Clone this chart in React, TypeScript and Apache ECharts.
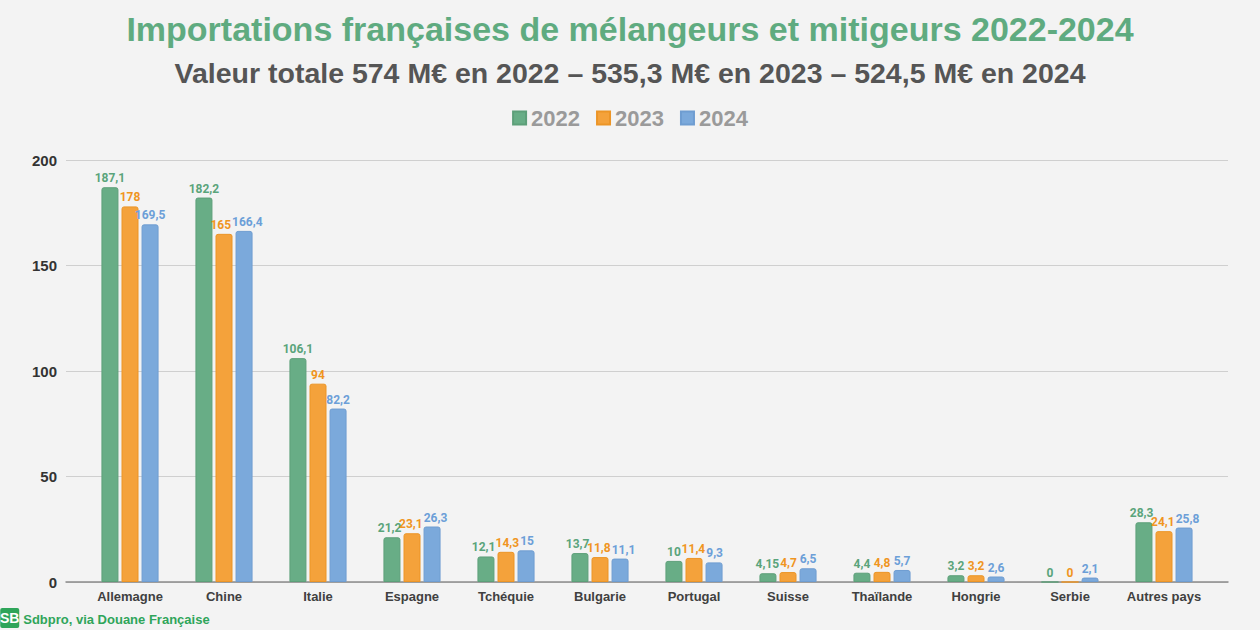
import React, { useEffect, useRef } from "react";
import * as echarts from "echarts";

const categories = ["Allemagne", "Chine", "Italie", "Espagne", "Tchéquie", "Bulgarie", "Portugal", "Suisse", "Thaïlande", "Hongrie", "Serbie", "Autres pays"];
const years = ["2022", "2023", "2024"];
const v2022 = [187.1, 182.2, 106.1, 21.2, 12.1, 13.7, 10, 4.15, 4.4, 3.2, 0, 28.3];
const v2023 = [178, 165, 94, 23.1, 14.3, 11.8, 11.4, 4.7, 4.8, 3.2, 0, 24.1];
const v2024 = [169.5, 166.4, 82.2, 26.3, 15, 11.1, 9.3, 6.5, 5.7, 2.6, 2.1, 25.8];
const yTicks = [0, 50, 100, 150, 200];

const colors = ["#68ad86", "#f4a23b", "#7ba9db"];
const borderColors = ["#5d9f79", "#ec9527", "#6f9dd1"];
const labelColors = ["#5aa47b", "#f0951f", "#6c9fd8"];
const FONT = "Liberation Sans, Arial, sans-serif";
const LABEL_FONT = "Roboto, Liberation Sans, sans-serif";

export default function App() {
  const ref = useRef<HTMLDivElement>(null);
  useEffect(() => {
    const chart = echarts.init(ref.current!, null, { renderer: "svg" });
    const seriesData = [v2022, v2023, v2024];
    const fmt = (v: number) => String(v).replace(".", ",");

    // Nudge neighbouring value labels apart when they would collide
    const ctx = document.createElement("canvas").getContext("2d")!;
    ctx.font = "bold 12px Roboto, sans-serif";
    const pxPerUnit = 422 / 200;
    const step = 20;
    const offsets: number[][] = seriesData.map((s) => s.map(() => 0));
    categories.forEach((_, c) => {
      for (let i = 0; i < 2; i++) {
        const a = seriesData[i][c];
        const b = seriesData[i + 1][c];
        if (Math.abs(a - b) * pxPerUnit < 13) {
          const wa = ctx.measureText(fmt(a)).width;
          const wb = ctx.measureText(fmt(b)).width;
          const gap = step + offsets[i + 1][c] - offsets[i][c] - (wa + wb) / 2;
          if (gap < 1) {
            const need = 1 - gap;
            offsets[i][c] -= need / 2;
            offsets[i + 1][c] += need / 2;
          }
        }
      }
    });

    chart.setOption({
      animation: false,
      backgroundColor: "#f3f3f3",
      title: [
        {
          text: "Importations françaises de mélangeurs et mitigeurs 2022-2024",
          left: "center",
          top: 7,
          textStyle: { color: "#5fab80", fontSize: 34, fontWeight: "bold", fontFamily: FONT },
        },
        {
          text: "Valeur totale 574 M€ en 2022 – 535,3 M€ en 2023 – 524,5 M€ en 2024",
          left: "center",
          top: 53,
          textStyle: { color: "#555555", fontSize: 28.5, fontWeight: "bold", fontFamily: FONT },
        },
      ],
      legend: {
        data: years,
        top: 102,
        left: "center",
        icon: "rect",
        itemWidth: 13,
        itemHeight: 13,
        itemGap: 16,
        textStyle: { color: "#9a9a9a", fontSize: 22, fontWeight: "bold", fontFamily: FONT },
      },
      grid: [
        { left: 66, right: 32, top: 160, bottom: 48 },
        { left: 83, right: 49, top: 160, bottom: 48 },
      ],
      xAxis: [
        {
          type: "category",
          gridIndex: 0,
          data: [""],
          axisLine: { show: true, lineStyle: { color: "#8c8c8c", width: 1.5 } },
          axisTick: { show: false },
          axisLabel: { show: false },
        },
        {
          type: "category",
          gridIndex: 1,
          data: categories,
          axisLine: { show: false },
          axisTick: { show: false },
          axisLabel: { color: "#404040", fontSize: 13, fontWeight: "bold", margin: 8, fontFamily: FONT, interval: 0 },
        },
      ],
      yAxis: [
        {
          type: "value",
          gridIndex: 0,
          min: yTicks[0],
          max: yTicks[yTicks.length - 1],
          interval: 50,
          axisLine: { show: false },
          axisTick: { show: false },
          axisLabel: { color: "#333333", fontSize: 15, fontWeight: "bold", margin: 9, fontFamily: FONT },
          splitLine: { lineStyle: { color: "#cfcfcf", width: 1 } },
        },
        {
          type: "value",
          gridIndex: 1,
          min: yTicks[0],
          max: yTicks[yTicks.length - 1],
          interval: 50,
          show: false,
          splitLine: { show: false },
        },
      ],
      series: years.map((y, i) => ({
        name: y,
        type: "bar",
        xAxisIndex: 1,
        yAxisIndex: 1,
        data: seriesData[i].map((v, c) => ({
          value: v,
          label: { offset: [offsets[i][c], 0] },
        })),
        barWidth: 17,
        barGap: "18%",
        itemStyle: { color: colors[i], borderColor: borderColors[i], borderWidth: 1, borderRadius: [2, 2, 0, 0] },
        label: {
          show: true,
          position: "top",
          distance: 3,
          color: labelColors[i],
          fontSize: 12,
          fontWeight: "bold",
          fontFamily: LABEL_FONT,
          formatter: (p: any) => fmt(p.value),
        },
      })),
      graphic: [
        {
          type: "group",
          left: 0,
          bottom: 2,
          children: [
            { type: "rect", shape: { x: 0, y: 0, width: 19, height: 20, r: 2 }, style: { fill: "#2fa55a" } },
            { type: "text", x: 9.5, y: 10, style: { text: "SB", fill: "#ffffff", fontSize: 14, fontWeight: "bold", align: "center", verticalAlign: "middle", fontFamily: FONT } },
            { type: "text", x: 23, y: 11, style: { text: "Sdbpro, via Douane Française", fill: "#2fa55a", fontSize: 13, fontWeight: "bold", verticalAlign: "middle", fontFamily: FONT } },
          ],
        },
      ],
    });
    return () => chart.dispose();
  }, []);
  return <div ref={ref} style={{ position: "fixed", left: 0, top: 0, width: 1260, height: 630 }} />;
}
